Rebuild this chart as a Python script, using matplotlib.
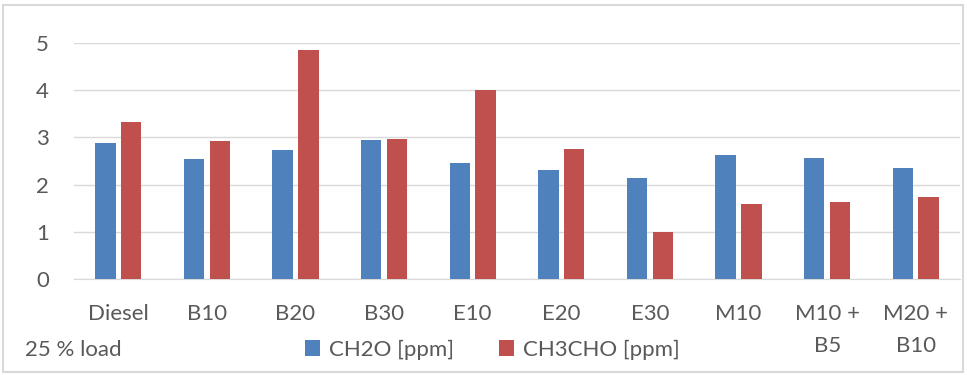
import numpy as np
import matplotlib.pyplot as plt
from matplotlib.patches import Rectangle

categories = ["Diesel", "B10", "B20", "B30", "E10", "E20", "E30", "M10", "M10 +\nB5", "M20 +\nB10"]
ch2o = [2.89, 2.54, 2.73, 2.94, 2.45, 2.32, 2.15, 2.62, 2.56, 2.35]
ch3cho = [3.32, 2.92, 4.85, 2.97, 4.00, 2.75, 0.99, 1.58, 1.64, 1.74]
series_labels = ["CH2O [ppm]", "CH3CHO [ppm]"]

plt.rcParams["font.family"] = ["Lato", "DejaVu Sans"]
text_color = "#595959"
fs = 16

fig = plt.figure(figsize=(9.67, 3.75), dpi=100)
ax = fig.add_axes([0.0765, 0.256, 0.9163, 0.629])

x = np.arange(len(categories))
width = 0.23
gap = 0.03
ax.bar(x - width / 2 - gap, ch2o, width, color="#4F81BD", label=series_labels[0], zorder=3)
ax.bar(x + width / 2 + gap, ch3cho, width, color="#C0504D", label=series_labels[1], zorder=3)

ax.set_xlim(-0.5, len(categories) - 0.5)
ax.set_ylim(0, 5)
ax.set_yticks(range(0, 6))
ax.yaxis.grid(True, color="#D9D9D9", linewidth=1, zorder=0)
for s in ["top", "right", "left"]:
    ax.spines[s].set_visible(False)
ax.spines["bottom"].set_color("#D9D9D9")
ax.set_xticks(x)
ax.set_xticklabels(categories, linespacing=1.75)
ax.tick_params(axis="both", length=0, labelsize=fs, colors=text_color)
ax.tick_params(axis="x", pad=18)
ax.tick_params(axis="y", pad=18)

fig.legend(loc="center", bbox_to_anchor=(0.509, 0.067), ncol=2, frameon=False,
           fontsize=fs, labelcolor=text_color, handlelength=0.7, handleheight=0.7,
           handletextpad=0.4, columnspacing=2.0)
fig.text(0.026, 0.067, "25 % load", fontsize=fs, color=text_color, va="center")

fig.patches.append(Rectangle((0.003, 0.008), 0.993, 0.98, transform=fig.transFigure,
                             fill=False, edgecolor="#D9D9D9", linewidth=1.5))

fig.savefig("out.png", dpi=100)
